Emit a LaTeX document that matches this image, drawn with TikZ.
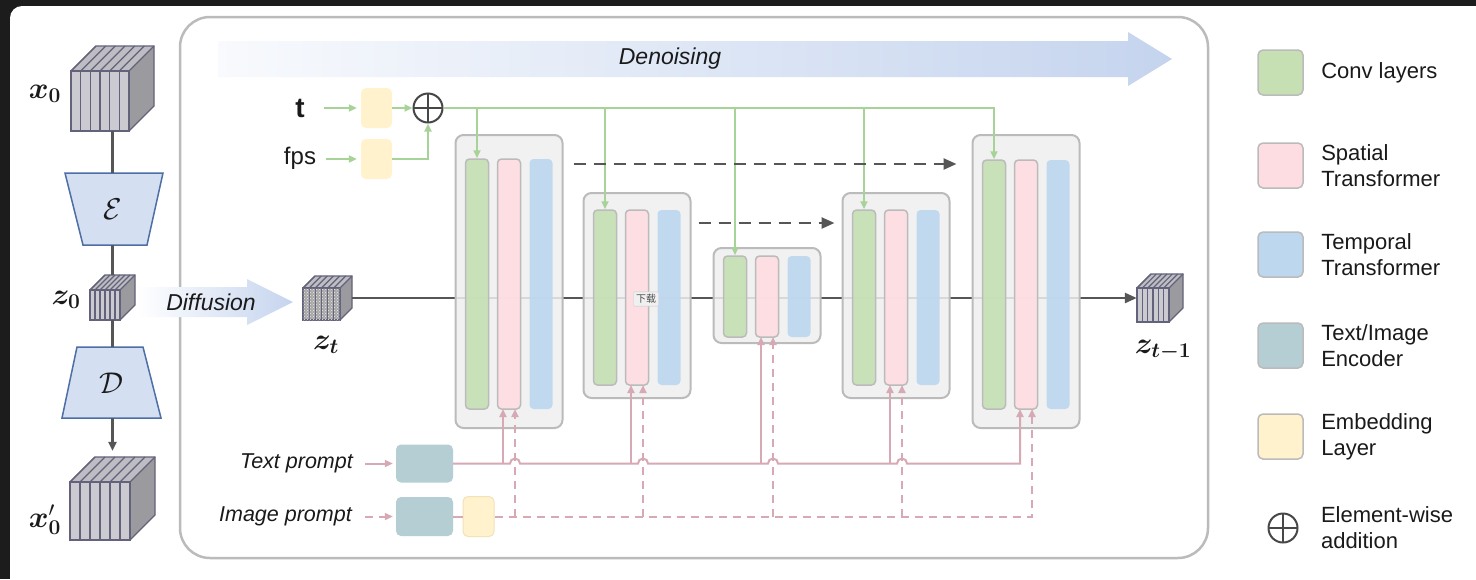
\documentclass[tikz,border=0pt]{standalone}
\usepackage{fix-cm}
\usepackage{amsmath}
\usepackage{fontspec}
\setmainfont{Liberation Sans}
\newfontfamily\cjkfont{Noto Sans CJK SC}
\usetikzlibrary{arrows.meta, patterns, calc, positioning}

\definecolor{bgdark}{HTML}{1C1C1C}
\definecolor{framegray}{HTML}{BBBBBB}
\definecolor{lineGray}{HTML}{565656}
\definecolor{convgreen}{HTML}{C6E0B4}
\definecolor{spatpink}{HTML}{FEDDE2}
\definecolor{tempblue}{HTML}{BDD7EE}
\definecolor{encteal}{HTML}{B5CED4}
\definecolor{embyellow}{HTML}{FFF2CC}
\definecolor{embedge}{HTML}{F2E2B8}
\definecolor{greenflow}{HTML}{A8D398}
\definecolor{pinkflow}{HTML}{D6A9B5}
\definecolor{coderfill}{HTML}{D4DFF2}
\definecolor{coderedge}{HTML}{4E6EA5}
\definecolor{cubefill}{HTML}{CACAD0}
\definecolor{cubeedge}{HTML}{62627A}
\definecolor{cubeside}{HTML}{9B9B9F}
\definecolor{cubetop}{HTML}{BDBDC3}
\definecolor{flowblue}{HTML}{C5D4EE}
\definecolor{blockgray}{HTML}{EFEFEF}
\definecolor{blockedge}{HTML}{BBBBBB}
\definecolor{plusgray}{HTML}{474747}
\definecolor{textdark}{HTML}{1A1A1A}

\tikzset{
	lbl/.style={text=textdark, font=\fontsize{22}{26}\selectfont},
	mathlabel/.style={text=textdark, font=\fontsize{30}{32}\selectfont},
	darkline/.style={draw=lineGray, line width=2.5pt},
	coder/.style={draw=coderedge, fill=coderfill, line width=1.5pt},
	cubeline/.style={draw=cubeedge, line width=1.2pt},
	cubefront/.style={fill=cubefill},
	noisefront/.style={fill=gray!70, postaction={pattern=crosshatch dots, pattern color=white!85!gray}},
	blockbox/.style={draw=blockedge, fill=blockgray, fill opacity=0.85, line width=2pt,
		rounded corners=8pt, minimum width=107pt, inner sep=0pt},
	layerbar/.style={draw=blockedge, line width=1.5pt, rounded corners=4pt,
		minimum width=23pt, inner sep=0pt, fill opacity=0.92},
	smallbox/.style={rounded corners=5pt, inner sep=0pt},
	greenarrow/.style={draw=greenflow, line width=2pt, -{Triangle[length=8pt, width=7pt]}},
	pinkline/.style={draw=pinkflow, line width=2pt},
	pinkarrow/.style={pinkline, -{Triangle[length=8pt, width=7pt]}},
	pinkdash/.style={dash pattern=on 8pt off 6pt},
	skiparrow/.style={draw=lineGray, line width=2.5pt, dash pattern=on 12pt off 8pt,
		-{Triangle[length=13pt, width=11pt]}},
	oplus/.style={circle, draw=plusgray, line width=2pt, minimum size=29pt, inner sep=0pt,
		path picture={\draw[plusgray, line width=2pt]
			(path picture bounding box.north) -- (path picture bounding box.south)
			(path picture bounding box.west) -- (path picture bounding box.east);}},
	legendkey/.style={smallbox, draw=blockedge, line width=1.5pt, minimum size=45pt},
	legendtext/.style={lbl, align=left, right=14pt of #1},
}

% front top-left corner, width, height, depth, name
\newcommand{\videoCube}[7][cubefront]{
	\fill[cubetop] (#2,#3) -- ++(#6,-#6) -- ++(#4,0) -- ++(-#6,#6) -- cycle;
	\fill[cubeside] (#2+#4,#3) -- ++(#6,-#6) -- ++(0,#5) -- ++(-#6,#6) -- cycle;
	\foreach \i in {0,...,6} {
		\draw[cubeline] ({#2+\i*#4/6},#3) -- ++(#6,-#6);
	}
	\foreach \i in {0,...,5} {
		\draw[cubeline, #1] ({#2+\i*#4/6},#3) rectangle ++({#4/6},#5);
	}
	\draw[cubeline] (#2,#3) -- ++(#6,-#6) -- ++(#4,0) -- ++(0,#5) -- ++(-#6,#6);
	\node[inner sep=0pt, minimum width=#4+#6, minimum height=#5+#6] (#7)
		at ({#2+(#4+#6)/2},{#3+(#5-#6)/2}) {};
}

% name, centre x, box top, box bottom, bar top, bar bottom
\newcommand{\unetBlock}[6]{
	\node[blockbox, minimum height=#4-#3] (#1) at (#2,{(#3+#4)/2}) {};
	\node[layerbar, fill=convgreen, minimum height=#6-#5] (#1g) at (#2-32,{(#5+#6)/2}) {};
	\node[layerbar, fill=spatpink, minimum height=#6-#5] (#1p) at (#2,{(#5+#6)/2}) {};
	\node[layerbar, fill=tempblue, draw=none, minimum height=#6-#5] (#1b) at (#2+32,{(#5+#6)/2}) {};
	\coordinate (#1s) at (#2-6,#6);
	\coordinate (#1d) at (#2+6,#6);
}

\begin{document}
\begin{tikzpicture}[x=1pt, y=-1pt]
	\useasboundingbox (0,0) rectangle (1476,579);
	\fill[bgdark] (0,0) rectangle (1476,579);
	\fill[white, rounded corners=12pt] (10,6) rectangle (1500,600);

	% autoencoder column
	\videoCube{71}{71}{58}{60}{25}{x0};
	\videoCube{90}{290}{30}{30}{15}{z0};
	\videoCube{70}{482}{60}{58}{25}{x0p};
	\draw[coder] (65,173) -- (163,173) -- (147,245) -- (83,245) -- cycle;
	\draw[coder] (77,347) -- (143,347) -- (161,418) -- (62,418) -- cycle;
	\node[mathlabel] (enc) at (113,209) {$\mathcal{E}$};
	\node[mathlabel] (dec) at (111,383) {$\mathcal{D}$};
	\coordinate (encT) at (112.5,173);
	\coordinate (encB) at (112.5,245);
	\coordinate (decT) at (112.5,347);
	\coordinate (decB) at (112.5,418);
	\draw[darkline] (x0.south) -- (encT);
	\draw[darkline] (encB) -- (z0.north);
	\draw[darkline] (z0.south) -- (decT);
	\draw[darkline, -{Triangle[length=9pt, width=8pt]}, shorten >=6pt] (decB) -- (x0p.north);
	\node[mathlabel] (x0lab) at (45,94) {$\boldsymbol{x_0}$};
	\node[mathlabel] (z0lab) at (66,300) {$\boldsymbol{z_0}$};
	\node[mathlabel] (x0plab) at (45,520) {$\boldsymbol{x}'_{\boldsymbol{0}}$};

	% denoising frame
	\draw[draw=framegray, line width=2.5pt, rounded corners=30pt] (180,17) rectangle (1208,558);
	\shade[left color=flowblue!12, right color=flowblue]
		(218,41) -- (1128,41) -- (1128,32) -- (1172,59) -- (1128,86) -- (1128,77) -- (218,77) -- cycle;
	\node[lbl, font=\fontsize{23}{26}\selectfont\itshape] (denoise) at (670,59) {Denoising};
	\shade[left color=white, right color=flowblue]
		(137,287) -- (247,287) -- (247,279) -- (293,302) -- (247,325) -- (247,317) -- (137,317) -- cycle;
	\node[lbl, font=\fontsize{23}{26}\selectfont\itshape] (diffuse) at (211,302) {Diffusion};

	% latents
	\videoCube[noisefront]{303}{288}{37}{32}{12}{zt};
	\videoCube{1137}{288}{32}{34}{14}{zt1};
	\node[mathlabel] (ztlab) at (326,345) {$\boldsymbol{z_t}$};
	\node[mathlabel] (zt1lab) at (1163,350) {$\boldsymbol{z_{t-1}}$};
	\draw[darkline, -{Triangle[length=12pt, width=10pt]}] (zt.east) -- (zt1.west);

	% U-Net
	\unetBlock{u1}{509}{135}{428}{159}{409}
	\unetBlock{u2}{637}{193}{398}{210}{385}
	\unetBlock{u3}{767}{248}{343}{256}{337}
	\unetBlock{u4}{896}{193}{398}{210}{385}
	\unetBlock{u5}{1026}{135}{428}{160}{409}
	\node[draw=gray!40, fill=gray!12, text=gray!60!black, rounded corners=1pt, inner sep=2.5pt,
		font=\cjkfont\fontsize{10}{11}\selectfont] (tip) at (646,299) {下载};

	% timestep and fps
	\node[lbl, font=\fontsize{28}{30}\selectfont\bfseries] (tlab) at (300,108) {t};
	\node[lbl, font=\fontsize{24}{26}\selectfont] (fpslab) at (300,158) {fps};
	\node[smallbox, fill=embyellow, minimum width=31pt, minimum height=40pt] (temb) at (376.5,108) {};
	\node[smallbox, fill=embyellow, minimum width=31pt, minimum height=40pt] (femb) at (376.5,159) {};
	\node[oplus] (plus) at (428,108) {};
	\draw[greenarrow, shorten <=16pt, shorten >=4pt] (tlab.east) -- (temb.west);
	\draw[greenarrow, shorten <=6pt, shorten >=4pt] (fpslab.east |- femb) -- (femb.west);
	\draw[greenarrow] (temb.east) -- (plus.west);
	\draw[greenarrow] (femb.east) -| (plus.south);
	\draw[greenarrow] (plus.east) -| (u5g.north);
	\foreach \blk in {u1,u2,u3,u4} {
		\draw[greenarrow] (plus.east -| \blk g.north) -- (\blk g.north);
	}

	% skip connections
	\draw[skiparrow, shorten <=10pt, shorten >=15pt] (u1.east |- 0,164) -- (u5.west |- 0,164);
	\draw[skiparrow, shorten <=7pt, shorten >=7pt] (u2.east |- 0,223) -- (u4.west |- 0,223);

	% prompts
	\node[lbl, font=\fontsize{21.5}{26}\selectfont\itshape, anchor=east, inner sep=0pt] (tprompt) at (353,463.5) {Text prompt};
	\node[lbl, font=\fontsize{21.5}{26}\selectfont\itshape, anchor=east, inner sep=0pt] (iprompt) at (352,516.5) {Image prompt};
	\node[smallbox, fill=encteal, minimum width=57pt, minimum height=38pt] (tenc) at (424.5,463.5) {};
	\node[smallbox, fill=encteal, minimum width=57pt, minimum height=39pt] (ienc) at (424.5,516.5) {};
	\node[smallbox, fill=embyellow, draw=embedge, line width=1pt, minimum width=31pt, minimum height=40pt] (iemb) at (478.5,516.5) {};
	\draw[pinkarrow, shorten <=12pt, shorten >=3pt] (tprompt.east) -- (tenc.west);
	\draw[pinkarrow, pinkdash, shorten <=13pt, shorten >=3pt] (iprompt.east) -- (ienc.west);
	\draw[pinkline] (ienc.east) -- (iemb.west);
	\draw[pinkarrow] (tenc.east)
		-- ($(u1d |- tenc.east)+(-5,0)$) arc[start angle=180, end angle=0, radius=5pt]
		-- ($(u2d |- tenc.east)+(-5,0)$) arc[start angle=180, end angle=0, radius=5pt]
		-- ($(u3d |- tenc.east)+(-5,0)$) arc[start angle=180, end angle=0, radius=5pt]
		-- ($(u4d |- tenc.east)+(-5,0)$) arc[start angle=180, end angle=0, radius=5pt]
		-- (u5s |- tenc.east) -- (u5s);
	\draw[pinkarrow, pinkdash] (iemb.east) -- (u5d |- iemb.east) -- (u5d);
	\foreach \blk in {u1,u2,u3,u4} {
		\draw[pinkarrow] (\blk s |- tenc.east) -- (\blk s);
		\draw[pinkarrow, pinkdash] (\blk d |- iemb.east) -- (\blk d);
	}

	% legend
	\node[legendkey, fill=convgreen] (kconv) at (1280.5,72.5) {};
	\node[legendkey, fill=spatpink] (kspat) at (1280.5,165.5) {};
	\node[legendkey, fill=tempblue] (ktemp) at (1280.5,254.5) {};
	\node[legendkey, fill=encteal] (kenc) at (1280.5,345.5) {};
	\node[legendkey, fill=embyellow] (kemb) at (1280.5,436.5) {};
	\node[oplus] (kplus) at (1283,528) {};
	\node[legendtext=kconv] (tconv) {Conv layers};
	\node[legendtext=kspat] (tspat) {Spatial\\Transformer};
	\node[legendtext=ktemp] (ttemp) {Temporal\\Transformer};
	\node[legendtext=kenc] (tenclab) {Text/Image\\Encoder};
	\node[legendtext=kemb] (temblab) {Embedding\\Layer};
	\node[lbl, align=left, right=19pt of kplus] (tplus) {Element-wise\\addition};
\end{tikzpicture}
\end{document}
